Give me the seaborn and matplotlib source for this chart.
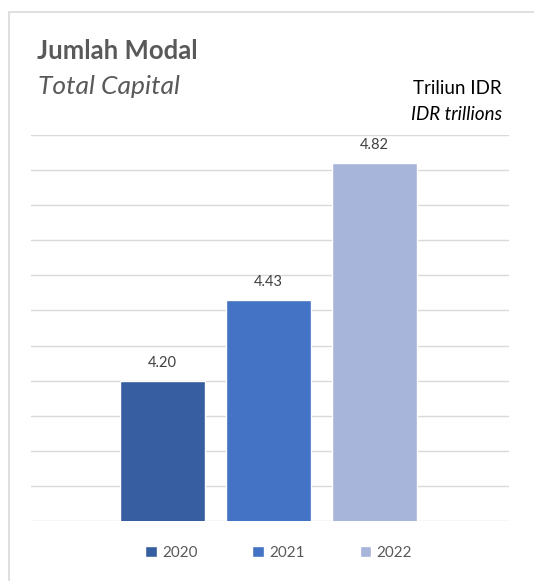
import numpy as np
import pandas as pd
import matplotlib
matplotlib.use("Agg")
import matplotlib.pyplot as plt
from matplotlib.patches import Rectangle
import seaborn as sns

years = ["2020", "2021", "2022"]
capital = [4.20, 4.43, 4.82]
bar_colors = ["#375EA1", "#4472C4", "#A8B5DA"]

sns.set_theme(style="white")
plt.rcParams["font.family"] = ["Lato", "DejaVu Sans"]

df = pd.DataFrame({"year": years, "capital": capital})

fig = plt.figure(figsize=(5.34, 5.81), dpi=100)
# light frame around the chart area (partly cropped in the reference)
fig.patches.append(Rectangle((9 / 534, -0.1), 1.2, 1 - 12 / 581 + 0.1,
                             transform=fig.transFigure, fill=False,
                             edgecolor="#D9D9D9", linewidth=1.2))

ax = fig.add_axes([31 / 534, 1 - 521 / 581, 478 / 534, 386 / 581])
sns.barplot(data=df, x="year", y="capital", hue="year", palette=bar_colors,
            width=0.8, legend=True, ax=ax, saturation=1)

ax.set_ylim(3.8, 4.9)
ax.set_xlim(-1.24, 3.27)
ax.set_yticks(np.arange(3.8, 4.91, 0.1))
ax.yaxis.grid(True, color="#D9D9D9", linewidth=1)
ax.set_axisbelow(True)
ax.tick_params(left=False, bottom=False, labelleft=False, labelbottom=False)
ax.set_xlabel("")
ax.set_ylabel("")
for s in ax.spines.values():
    s.set_visible(False)

for cont in ax.containers:
    ax.bar_label(cont, fmt="%.2f", padding=8, color="#404040", fontsize=10.5)

leg = ax.legend(loc="upper center", bbox_to_anchor=(0.5 + 0.018, -0.028), ncol=3,
                frameon=False, fontsize=11, handlelength=0.75, handleheight=0.75,
                handletextpad=0.35, columnspacing=3.6)
for t in leg.get_texts():
    t.set_color("#595959")

fig.text(37 / 534, 1 - 51 / 581, "Jumlah Modal", fontsize=18.5, fontweight="bold",
         color="#595959", va="center", ha="left")
fig.text(38 / 534, 1 - 86 / 581, "Total Capital", fontsize=19, style="italic",
         color="#595959", va="center", ha="left")
fig.text(502 / 534, 1 - 88 / 581, "Triliun IDR", fontsize=13.5, color="#000000",
         va="center", ha="right")
fig.text(502 / 534, 1 - 115 / 581, "IDR trillions", fontsize=13.5, style="italic",
         color="#000000", va="center", ha="right")

fig.savefig("out.png", dpi=100)
